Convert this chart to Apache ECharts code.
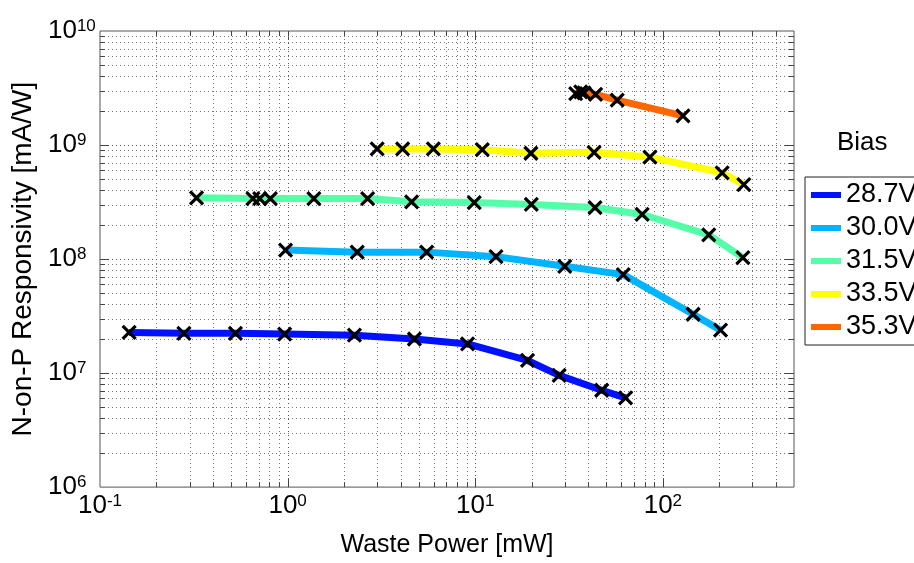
<!DOCTYPE html>
<html>
<head>
<meta charset="utf-8">
<script src="https://cdn.jsdelivr.net/npm/echarts@6/dist/echarts.min.js"></script>
<style>
html,body{margin:0;padding:0;background:#fff;}
#chart{width:914px;height:563px;}
</style>
</head>
<body>
<div id="chart"></div>
<script>
// ---- data ----
const biasLabels = ['28.7V', '30.0V', '31.5V', '33.5V', '35.3V'];
const biasColors = ['#0011ff', '#00b4ff', '#55ffaa', '#ffff00', '#ff6600'];

const power287 = [0.143, 0.28, 0.527, 0.964, 2.27, 4.74, 9.1, 19.0, 28.0, 47.2, 63.3];
const resp287  = [2.27e7, 2.23e7, 2.23e7, 2.2e7, 2.15e7, 1.99e7, 1.80e7, 1.29e7, 9.55e6, 7.07e6, 6.06e6];

const power300 = [0.975, 2.35, 5.51, 12.9, 30.0, 61.5, 145, 203];
const resp300  = [1.20e8, 1.15e8, 1.15e8, 1.05e8, 8.64e7, 7.30e7, 3.28e7, 2.38e7];

const power315 = [0.327, 0.653, 0.71, 0.809, 1.38, 2.67, 4.58, 9.88, 19.9, 43.5, 77.6, 175.7, 267];
const resp315  = [3.44e8, 3.39e8, 3.39e8, 3.39e8, 3.39e8, 3.39e8, 3.18e8, 3.13e8, 3.01e8, 2.83e8, 2.46e8, 1.63e8, 1.03e8];

const power335 = [3.0, 4.10, 5.98, 10.9, 19.8, 43.0, 85.3, 207, 270];
const resp335  = [9.23e8, 9.23e8, 9.23e8, 9.1e8, 8.47e8, 8.64e8, 7.82e8, 5.71e8, 4.49e8];

const power353 = [34.3, 36.5, 38.0, 43.8, 57.1, 128];
const resp353  = [2.83e9, 2.93e9, 2.87e9, 2.78e9, 2.48e9, 1.80e9];

// axis ranges and grid/tick positions
const xRange = [0.1, 500];
const yRange = [1e6, 1e10];
const xMajorGrid = [1, 10, 100];
const xMinorGrid = [0.2, 0.3, 0.4, 0.5, 0.6, 0.7, 0.8, 0.9,
                    2, 3, 4, 5, 6, 7, 8, 9,
                    20, 30, 40, 50, 60, 70, 80, 90,
                    200, 300, 400];
const yMajorGrid = [1e7, 1e8, 1e9];
const yMinorGrid = [2e6, 3e6, 4e6, 5e6, 6e6, 7e6, 8e6, 9e6,
                    2e7, 3e7, 4e7, 5e7, 6e7, 7e7, 8e7, 9e7,
                    2e8, 3e8, 4e8, 5e8, 6e8, 7e8, 8e8, 9e8,
                    2e9, 3e9, 4e9, 5e9, 6e9, 7e9, 8e9, 9e9];

const powers = [power287, power300, power315, power335, power353];
const resps  = [resp287, resp300, resp315, resp335, resp353];

const FONT = '"Liberation Sans", Arial, Helvetica, sans-serif';

function zip(a, b) { return a.map((v, i) => [v, b[i]]); }

// grid data: [x, y, kind(0=vertical,1=horizontal), major(1/0)]
const gridData = [];
xMajorGrid.forEach(v => gridData.push([v, 1e8, 0, 1]));
xMinorGrid.forEach(v => gridData.push([v, 1e8, 0, 0]));
yMajorGrid.forEach(v => gridData.push([1, v, 1, 1]));
yMinorGrid.forEach(v => gridData.push([1, v, 1, 0]));

function renderGrid(params, api) {
  const cs = params.coordSys;
  const kind = api.value(2);
  const major = api.value(3);
  const L = major ? 9 : 5;
  const gridStyle = { stroke: major ? '#555' : '#777', lineWidth: 1, lineDash: [1, 3] };
  const tickStyle = { stroke: '#444', lineWidth: 1 };
  const top = cs.y, bottom = cs.y + cs.height, left = cs.x, right = cs.x + cs.width;
  if (kind === 0) {
    const px = Math.round(api.coord([api.value(0), api.value(1)])[0]) + 0.5;
    return { type: 'group', children: [
      { type: 'line', shape: { x1: px, y1: top, x2: px, y2: bottom }, style: gridStyle },
      { type: 'line', shape: { x1: px, y1: bottom, x2: px, y2: bottom - L }, style: tickStyle },
      { type: 'line', shape: { x1: px, y1: top, x2: px, y2: top + L }, style: tickStyle }
    ]};
  } else if (kind === 1) {
    const py = Math.round(api.coord([api.value(0), api.value(1)])[1]) + 0.5;
    return { type: 'group', children: [
      { type: 'line', shape: { x1: left, y1: py, x2: right, y2: py }, style: gridStyle },
      { type: 'line', shape: { x1: left, y1: py, x2: left + L, y2: py }, style: tickStyle },
      { type: 'line', shape: { x1: right, y1: py, x2: right - L, y2: py }, style: tickStyle }
    ]};
  }
  return null;
}

function powLabel(v) {
  const e = Math.log10(v);
  const r = Math.round(e);
  if (Math.abs(e - r) > 1e-6) return '';
  return '{b|10}{s|' + r + '}';
}
const labelRich = {
  b: { fontSize: 26, lineHeight: 26, padding: [9, 0, 9, 0], fontFamily: FONT, color: '#000' },
  s: { fontSize: 17, lineHeight: 17, verticalAlign: 'top', fontFamily: FONT, color: '#000' }
};

const series = [];
series.push({
  type: 'custom', name: 'grid', renderItem: renderGrid, data: gridData,
  silent: true, z: 1, clip: false
});
biasLabels.forEach((name, i) => {
  series.push({
    type: 'line', name: name, data: zip(powers[i], resps[i]),
    color: biasColors[i],
    showSymbol: false, symbol: 'none', smooth: false,
    lineStyle: { width: 7, color: biasColors[i] },
    z: 3, silent: true
  });
});
biasLabels.forEach((name, i) => {
  series.push({
    type: 'scatter', name: name + ' pts', data: zip(powers[i], resps[i]),
    symbol: 'path://M0,0L10,10M10,0L0,10', symbolSize: 13,
    itemStyle: { color: '#000', borderColor: '#000', borderWidth: 3.2, opacity: 1 },
    z: 5, silent: true
  });
});

const chart = echarts.init(document.getElementById('chart'), null, { renderer: 'canvas' });
chart.setOption({
  animation: false,
  backgroundColor: '#fff',
  title: {
    text: 'Bias', left: 837, top: 130, padding: 0,
    textStyle: { fontSize: 26, fontWeight: 'normal', fontFamily: FONT, color: '#000' }
  },
  legend: {
    data: biasLabels, orient: 'vertical', left: 805, top: 177,
    padding: [4, 20, 4, 6], itemGap: 5, itemWidth: 30, itemHeight: 6,
    icon: 'rect', borderColor: '#222', borderWidth: 1, backgroundColor: '#fff',
    textStyle: { fontSize: 27, lineHeight: 28, fontFamily: FONT, color: '#000' },
    selectedMode: false
  },
  grid: {
    left: 100, top: 31, right: 120, bottom: 72,
    show: true, borderColor: '#555', borderWidth: 1, backgroundColor: '#fff'
  },
  xAxis: {
    type: 'log', logBase: 10, min: xRange[0], max: xRange[1],
    name: 'Waste Power [mW]', nameLocation: 'middle', nameGap: 45,
    nameTextStyle: { fontSize: 25, fontFamily: FONT, color: '#000' },
    axisLine: { show: false }, axisTick: { show: false }, splitLine: { show: false },
    axisLabel: { formatter: powLabel, rich: labelRich, margin: 6, showMinLabel: true, showMaxLabel: true }
  },
  yAxis: {
    type: 'log', logBase: 10, min: yRange[0], max: yRange[1],
    name: 'N-on-P Responsivity [mA/W]', nameLocation: 'middle', nameGap: 61,
    nameTextStyle: { fontSize: 28, fontFamily: FONT, color: '#000' },
    axisLine: { show: false }, axisTick: { show: false }, splitLine: { show: false },
    axisLabel: { formatter: powLabel, rich: labelRich, margin: 52, align: 'left' }
  },
  series: series
});
</script>
</body>
</html>
